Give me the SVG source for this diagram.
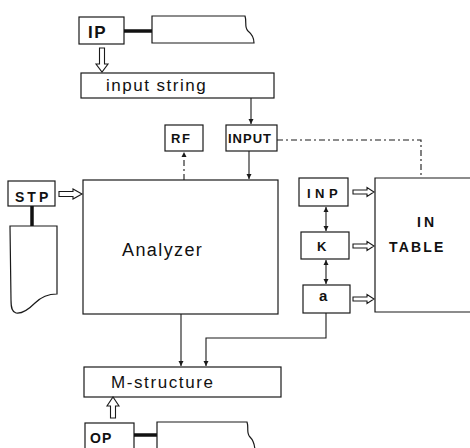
<svg xmlns="http://www.w3.org/2000/svg" width="470" height="448" viewBox="0 0 470 448">
<style>
.box{fill:#fff;stroke:#1a1a1a;stroke-width:1.2}
.t{font-family:"Liberation Sans",Arial,sans-serif;fill:#111}
.b{font-weight:bold}
.ln{fill:none;stroke:#1a1a1a;stroke-width:1.1}
.dash{fill:none;stroke:#1a1a1a;stroke-width:1.1;stroke-dasharray:6 3 2 3}
.thick{stroke:#111;stroke-width:3.5}
.hollow{fill:#fff;stroke:#1a1a1a;stroke-width:1.1;stroke-linejoin:miter}
</style>
<defs>
<marker id="ah" markerWidth="6" markerHeight="6" refX="5" refY="3" orient="auto" markerUnits="userSpaceOnUse">
<path d="M0,0.5 L5,3 L0,5.5 Z" fill="#1a1a1a"/>
</marker>
<marker id="as" markerWidth="6" markerHeight="6" refX="1" refY="3" orient="auto" markerUnits="userSpaceOnUse">
<path d="M6,0.5 L1,3 L6,5.5 Z" fill="#1a1a1a"/>
</marker>
</defs>

<g id="IP">
<rect class="box" x="79" y="17" width="45" height="27"/>
<text class="t b" x="88" y="38" font-size="17" letter-spacing="1.5">IP</text>
</g>
<g id="input-tape">
<line class="thick" x1="124" y1="31" x2="152" y2="31"/>
<path class="box" d="M152,16 H245 C247,22 244,27 248,31 C253,35 254,39 254,43 H152 Z"/>
</g>
<g id="input-string">
<rect class="box" x="81" y="73" width="193" height="25"/>
<text class="t" x="106" y="91" font-size="17" letter-spacing="1.5">input string</text>
</g>
<g id="RF">
<rect class="box" x="165" y="125" width="38" height="26"/>
<text class="t b" x="171" y="143" font-size="13" letter-spacing="1.5">RF</text>
</g>
<g id="INPUT">
<rect class="box" x="226" y="125" width="51" height="26"/>
<text class="t b" x="228" y="143" font-size="13" letter-spacing="1">INPUT</text>
</g>
<g id="STP">
<rect class="box" x="8" y="181" width="47" height="25"/>
<text class="t b" x="15" y="202" font-size="14" letter-spacing="3">STP</text>
</g>
<g id="STP-card">
<line class="thick" x1="32" y1="206" x2="32" y2="226"/>
<path class="box" d="M10,226 H57 V294 C50,294 42,296 35,303 C28,310 22,314 16,313 C12,312 11,308 11,300 Z"/>
</g>
<g id="Analyzer">
<rect class="box" x="83" y="180" width="195" height="134"/>
<text class="t" x="122" y="256" font-size="18" letter-spacing="1.4">Analyzer</text>
</g>
<g id="INP">
<rect class="box" x="299" y="178" width="49" height="28"/>
<text class="t b" x="307" y="198" font-size="13" letter-spacing="4.5">INP</text>
</g>
<g id="K">
<rect class="box" x="301" y="232" width="48" height="27"/>
<text class="t b" x="317" y="251" font-size="13">K</text>
</g>
<g id="a">
<rect class="box" x="303" y="285" width="47" height="28"/>
<text class="t b" x="319" y="301" font-size="15">a</text>
</g>
<g id="IN-TABLE">
<path class="box" d="M472,178 H375 V312 H472"/>
<text class="t b" x="417" y="227" font-size="14" letter-spacing="3">IN</text>
<text class="t b" x="389" y="252" font-size="14" letter-spacing="2.2">TABLE</text>
</g>
<g id="M-structure">
<rect class="box" x="84" y="367" width="197" height="30"/>
<text class="t" x="111" y="388" font-size="17" letter-spacing="1.6">M-structure</text>
</g>
<g id="OP">
<rect class="box" x="85" y="423" width="49" height="30"/>
<text class="t b" x="90" y="443" font-size="14" letter-spacing="1">OP</text>
</g>
<g id="output-tape">
<line class="thick" x1="134" y1="435" x2="157" y2="435"/>
<path class="box" d="M157,452 V422 H247 C249,428 246,433 250,437 C254,441 255,445 255,452"/>
</g>

<g id="connectors">
<path class="hollow" d="M99.5,48 H104.5 V64 H108 L102,72 L96,64 H99.5 Z"/>
<path class="hollow" d="M59,191.5 H73 V189 L82,194 L73,199 V196.5 H59 Z"/>
<path class="hollow" d="M110.5,418 V406 H107 L113,397 L119,406 H115.5 V418 Z"/>
<path class="hollow" d="M353,190 H367 V187.5 L374,192 L367,196.5 V194 H353 Z"/>
<path class="hollow" d="M353,244 H367 V241.5 L374,246 L367,250.5 V248 H353 Z"/>
<path class="hollow" d="M353,297 H367 V294.5 L374,299 L367,303.5 V301 H353 Z"/>
<line class="ln" x1="251" y1="98" x2="251" y2="124" marker-end="url(#ah)"/>
<line class="ln" x1="249" y1="151" x2="249" y2="179" marker-end="url(#ah)"/>
<line class="dash" x1="184" y1="180" x2="184" y2="152" marker-end="url(#ah)"/>
<path class="dash" d="M277,140 H421 V178"/>
<line class="ln" x1="326" y1="207" x2="326" y2="231" marker-start="url(#as)" marker-end="url(#ah)"/>
<line class="ln" x1="326" y1="260" x2="326" y2="284" marker-start="url(#as)" marker-end="url(#ah)"/>
<line class="ln" x1="181" y1="314" x2="181" y2="366" marker-end="url(#ah)"/>
<path class="ln" d="M326,313 V338 H206 V366" marker-end="url(#ah)"/>
</g>
</svg>
